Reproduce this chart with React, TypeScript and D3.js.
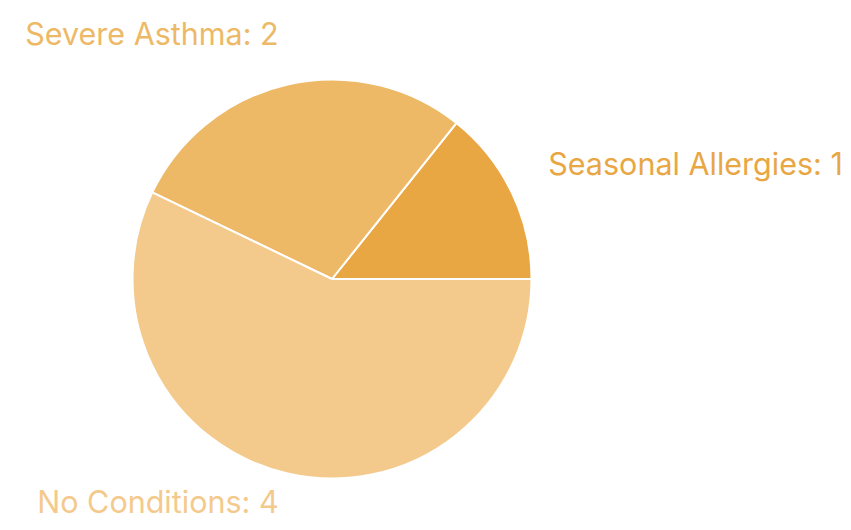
import { useEffect, useRef } from "react";
import * as d3 from "d3";

const categories = ["Seasonal Allergies", "Severe Asthma", "No Conditions"];
const counts = [1, 2, 4];
const colors = ["#E9A744", "#EDB966", "#F4CA8C"];

const width = 851;
const height = 530;

const App = () => {
  const ref = useRef<SVGSVGElement>(null);

  useEffect(() => {
    if (!ref.current) return;
    const svg = d3.select(ref.current);
    svg.selectAll("*").remove();

    const cx = 332;
    const cy = 279;
    const radius = 199.5;

    const data = categories.map((name, i) => ({ name, value: counts[i], color: colors[i] }));

    // start at 3 o'clock and run counter-clockwise
    const pie = d3
      .pie<{ name: string; value: number; color: string }>()
      .sort(null)
      .value((d) => d.value)
      .startAngle(Math.PI / 2)
      .endAngle(Math.PI / 2 - 2 * Math.PI);

    const arcs = pie(data);
    const arc = d3
      .arc<d3.PieArcDatum<{ name: string; value: number; color: string }>>()
      .innerRadius(0)
      .outerRadius(radius);

    const g = svg.append("g").attr("transform", `translate(${cx},${cy})`);

    g.selectAll("path")
      .data(arcs)
      .enter()
      .append("path")
      .attr("d", arc)
      .attr("fill", (d) => d.data.color)
      .attr("stroke", "#fff")
      .attr("stroke-width", 2)
      .attr("stroke-linejoin", "round");

    const labelR = 240;
    g.selectAll("text")
      .data(arcs)
      .enter()
      .append("text")
      .each(function (d) {
        const mid = (d.startAngle + d.endAngle) / 2;
        const x = labelR * Math.sin(mid);
        const y = -labelR * Math.cos(mid);
        d3.select(this)
          .attr("x", x)
          .attr("y", y)
          .attr("text-anchor", x < 0 ? "end" : "start");
      })
      .attr("fill", (d) => d.data.color)
      .attr("font-family", "Inter, sans-serif")
      .attr("font-size", "30.5px")
      .text((d) => `${d.data.name}: ${d.data.value}`);
  }, []);

  return (
    <svg
      ref={ref}
      width={width}
      height={height}
      style={{ position: "absolute", left: 0, top: 0, display: "block" }}
    ></svg>
  );
};

export default App;
